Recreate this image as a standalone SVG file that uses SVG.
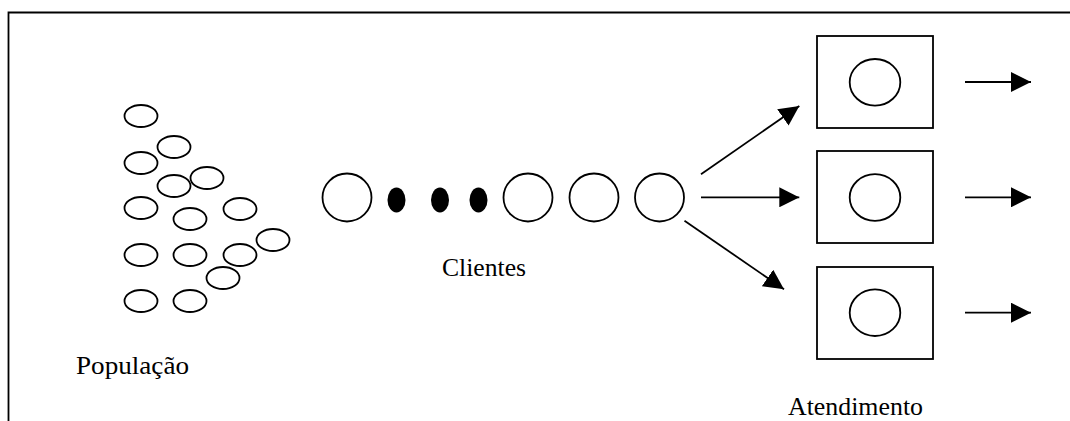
<svg xmlns="http://www.w3.org/2000/svg" width="1070" height="421" viewBox="0 0 1070 421">
  <style>
    .o { fill: none; stroke: #000; stroke-width: 1.8; }
    .dot { fill: #000; stroke: none; }
    .box { fill: none; stroke: #000; stroke-width: 1.8; }
    .ln { fill: none; stroke: #000; stroke-width: 1.8; }
    .lbl { font-family: "Liberation Serif", "Times New Roman", serif; font-size: 25px; fill: #000; }
  </style>
  <defs>
    <marker id="head" markerUnits="userSpaceOnUse" markerWidth="20" markerHeight="20" viewBox="0 0 20 20" refX="20" refY="10" orient="auto">
      <path d="M0,0 L20,10 L0,20 Z" fill="#000"/>
    </marker>
  </defs>

  <rect width="1070" height="421" fill="#fff"/>

  <!-- frame: top and left edges only -->
  <path class="ln" d="M8.5,421 V12.5 H1070" stroke-width="2"/>

  <!-- population of potential customers -->
  <g id="populacao">
    <ellipse class="o" cx="141" cy="116" rx="16.5" ry="11"/>
    <ellipse class="o" cx="174" cy="147" rx="16.5" ry="11"/>
    <ellipse class="o" cx="141" cy="163" rx="16.5" ry="11"/>
    <ellipse class="o" cx="207" cy="178" rx="16.5" ry="11"/>
    <ellipse class="o" cx="174" cy="186" rx="16.5" ry="11"/>
    <ellipse class="o" cx="141" cy="208" rx="16.5" ry="11"/>
    <ellipse class="o" cx="240" cy="209" rx="16.5" ry="11"/>
    <ellipse class="o" cx="190" cy="219" rx="16.5" ry="11"/>
    <ellipse class="o" cx="273" cy="240" rx="16.5" ry="11"/>
    <ellipse class="o" cx="141" cy="255" rx="16.5" ry="11"/>
    <ellipse class="o" cx="190" cy="255" rx="16.5" ry="11"/>
    <ellipse class="o" cx="240" cy="255" rx="16.5" ry="11"/>
    <ellipse class="o" cx="223" cy="278" rx="16.5" ry="11"/>
    <ellipse class="o" cx="141" cy="301" rx="16.5" ry="11"/>
    <ellipse class="o" cx="190" cy="301" rx="16.5" ry="11"/>
    <text class="lbl" x="76" y="374" textLength="113" lengthAdjust="spacingAndGlyphs">População</text>
  </g>

  <!-- queue of customers -->
  <g id="clientes">
    <ellipse class="o" cx="347" cy="197.5" rx="24.5" ry="24"/>
    <ellipse class="dot" cx="396.5" cy="200" rx="9" ry="12.5"/>
    <ellipse class="dot" cx="440" cy="200" rx="9" ry="12.5"/>
    <ellipse class="dot" cx="478.5" cy="200" rx="9" ry="12.5"/>
    <ellipse class="o" cx="528" cy="197.5" rx="24.5" ry="24"/>
    <ellipse class="o" cx="594" cy="197.5" rx="24.5" ry="24"/>
    <ellipse class="o" cx="659.5" cy="197.5" rx="24.5" ry="24"/>
    <text class="lbl" x="442" y="276" textLength="84" lengthAdjust="spacingAndGlyphs">Clientes</text>
  </g>

  <!-- service stations -->
  <g id="atendimento-1">
    <rect class="box" x="817" y="36" width="116" height="92"/>
    <ellipse class="o" cx="875" cy="82.3" rx="25.3" ry="23.3"/>
  </g>
  <g id="atendimento-2">
    <rect class="box" x="817" y="151" width="116" height="92"/>
    <ellipse class="o" cx="875" cy="197.5" rx="25.3" ry="23.3"/>
  </g>
  <g id="atendimento-3">
    <rect class="box" x="817" y="267" width="116" height="92"/>
    <ellipse class="o" cx="875" cy="312.7" rx="25.3" ry="23.3"/>
  </g>
  <g id="atendimento-label">
    <text class="lbl" x="788" y="415" textLength="135" lengthAdjust="spacingAndGlyphs">Atendimento</text>
  </g>

  <!-- connectors -->
  <g id="connectors">
    <line class="ln" x1="701" y1="174.3" x2="799.3" y2="106" marker-end="url(#head)"/>
    <line class="ln" x1="701" y1="197.3" x2="799.3" y2="197.3" marker-end="url(#head)"/>
    <line class="ln" x1="684.5" y1="220.7" x2="784" y2="289.3" marker-end="url(#head)"/>
    <line class="ln" x1="965" y1="82" x2="1031" y2="82" marker-end="url(#head)"/>
    <line class="ln" x1="965" y1="197.3" x2="1031" y2="197.3" marker-end="url(#head)"/>
    <line class="ln" x1="965" y1="312.7" x2="1031" y2="312.7" marker-end="url(#head)"/>
  </g>
</svg>
